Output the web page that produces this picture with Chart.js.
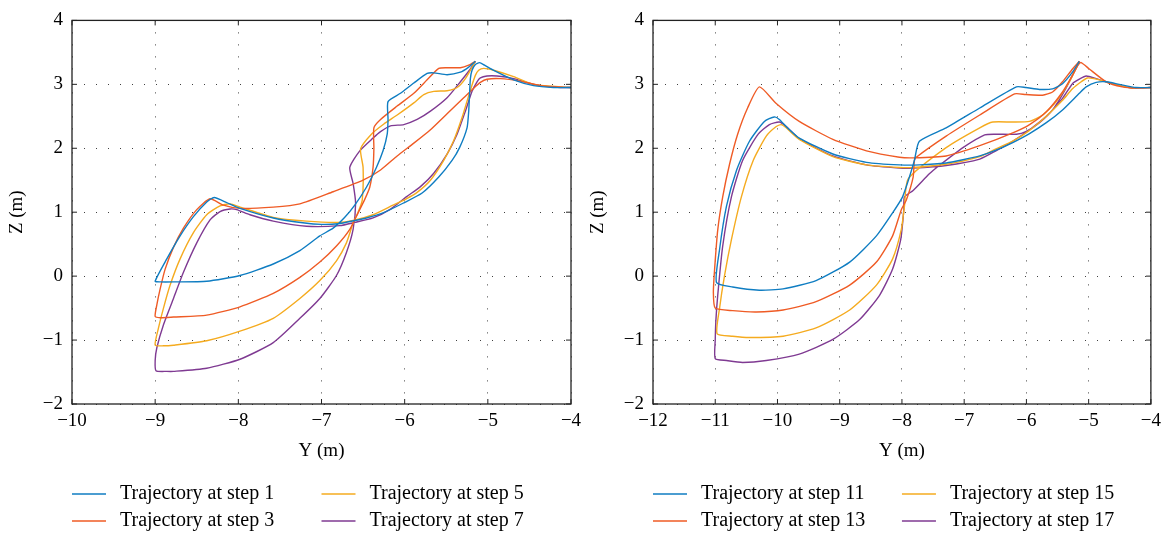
<!DOCTYPE html>
<html>
<head>
<meta charset="utf-8">
<title>Trajectories</title>
<script src="https://cdn.jsdelivr.net/npm/chart.js@4.4.1/dist/chart.umd.min.js"></script>
<style>
  html, body { margin: 0; padding: 0; background: #fff; }
  #wrap { position: relative; width: 1167px; height: 537px; }
  #wrap canvas { position: absolute; left: 0; top: 0; }
</style>
</head>
<body>
<div id="wrap">
  <canvas id="leftChart" width="1167" height="537"></canvas>
  <canvas id="rightChart" width="1167" height="537"></canvas>
</div>
<script>
// [Y, Z] samples of each trajectory, in metres
const step1 = [
  [-4.00, 2.95], [-4.21, 2.95], [-4.45, 2.98], [-4.69, 3.07], [-4.93, 3.22], [-5.04, 3.30], [-5.10, 3.34],
  [-5.15, 3.31], [-5.19, 3.22], [-5.21, 3.09], [-5.22, 2.84], [-5.23, 2.58], [-5.25, 2.32], [-5.34, 2.01],
  [-5.43, 1.81], [-5.59, 1.55], [-5.79, 1.30], [-6.02, 1.14], [-6.26, 0.99], [-6.46, 0.91], [-6.60, 0.87],
  [-6.80, 0.82], [-7.00, 0.81], [-7.20, 0.83], [-7.58, 0.91], [-7.98, 1.06], [-8.14, 1.15], [-8.29, 1.23],
  [-8.38, 1.16], [-8.54, 0.93], [-8.70, 0.63], [-8.86, 0.27], [-9.00, -0.08], [-8.94, -0.09], [-8.78, -0.09],
  [-8.38, -0.08], [-7.98, 0.01], [-7.58, 0.19], [-7.26, 0.40], [-7.02, 0.63], [-6.86, 0.75], [-6.72, 0.92],
  [-6.60, 1.11], [-6.46, 1.39], [-6.34, 1.70], [-6.26, 1.96], [-6.21, 2.22], [-6.20, 2.45], [-6.20, 2.73],
  [-6.05, 2.86], [-5.89, 3.02], [-5.73, 3.17], [-5.65, 3.18], [-5.49, 3.15], [-5.33, 3.19], [-5.23, 3.27],
  [-5.15, 3.36]
];
const step3 = [
  [-4.00, 2.95], [-4.37, 2.98], [-4.61, 3.05], [-4.85, 3.09], [-5.01, 3.08], [-5.09, 3.03], [-5.17, 2.94],
  [-5.29, 2.79], [-5.49, 2.54], [-5.69, 2.29], [-5.89, 2.08], [-6.09, 1.88], [-6.29, 1.66], [-6.50, 1.50],
  [-6.86, 1.32], [-7.26, 1.13], [-7.58, 1.08], [-7.98, 1.06], [-8.18, 1.11], [-8.34, 1.21], [-8.50, 1.04],
  [-8.66, 0.75], [-8.78, 0.45], [-8.88, 0.11], [-8.94, -0.20], [-8.98, -0.45], [-9.00, -0.63], [-8.94, -0.65],
  [-8.78, -0.64], [-8.38, -0.61], [-7.98, -0.48], [-7.58, -0.27], [-7.26, -0.02], [-7.02, 0.22], [-6.82, 0.47],
  [-6.66, 0.73], [-6.56, 0.99], [-6.48, 1.20], [-6.42, 1.39], [-6.38, 1.70], [-6.37, 2.00], [-6.37, 2.32],
  [-6.29, 2.45], [-6.09, 2.66], [-5.89, 2.86], [-5.73, 3.07], [-5.59, 3.25], [-5.49, 3.26], [-5.33, 3.26],
  [-5.23, 3.30], [-5.15, 3.36]
];
const step5 = [
  [-4.00, 2.95], [-4.13, 2.96], [-4.45, 3.00], [-4.69, 3.12], [-4.93, 3.22], [-5.05, 3.25], [-5.11, 3.22],
  [-5.15, 3.14], [-5.19, 2.99], [-5.24, 2.78], [-5.31, 2.48], [-5.41, 2.12], [-5.53, 1.81], [-5.69, 1.50],
  [-5.85, 1.31], [-5.98, 1.21], [-6.14, 1.11], [-6.38, 0.96], [-6.62, 0.87], [-6.80, 0.84], [-7.18, 0.86],
  [-7.58, 0.92], [-7.98, 1.08], [-8.10, 1.13], [-8.22, 1.10], [-8.38, 0.96], [-8.54, 0.68], [-8.70, 0.27],
  [-8.82, -0.14], [-8.90, -0.50], [-8.96, -0.81], [-9.00, -1.08], [-8.90, -1.09], [-8.78, -1.08], [-8.38, -1.01],
  [-7.98, -0.86], [-7.58, -0.66], [-7.26, -0.35], [-7.02, -0.07], [-6.82, 0.24], [-6.70, 0.52], [-6.62, 0.83],
  [-6.56, 1.00], [-6.51, 1.19], [-6.50, 1.70], [-6.53, 1.99], [-6.40, 2.22], [-6.25, 2.38], [-6.09, 2.52],
  [-5.89, 2.71], [-5.77, 2.84], [-5.65, 2.89], [-5.49, 2.90], [-5.37, 2.95], [-5.27, 3.09], [-5.15, 3.36]
];
const step7 = [
  [-4.00, 2.95], [-4.13, 2.95], [-4.45, 3.00], [-4.69, 3.09], [-4.89, 3.13], [-5.01, 3.13], [-5.09, 3.10],
  [-5.13, 3.04], [-5.19, 2.89], [-5.27, 2.58], [-5.37, 2.22], [-5.49, 1.91], [-5.65, 1.61], [-5.81, 1.40],
  [-5.98, 1.24], [-6.18, 1.04], [-6.38, 0.91], [-6.60, 0.84], [-6.78, 0.79], [-7.18, 0.78], [-7.58, 0.86],
  [-7.86, 0.96], [-8.02, 1.04], [-8.10, 1.05], [-8.22, 1.01], [-8.34, 0.88], [-8.50, 0.52], [-8.66, 0.06],
  [-8.78, -0.35], [-8.90, -0.76], [-8.98, -1.12], [-9.00, -1.32], [-8.99, -1.48], [-8.86, -1.49], [-8.78, -1.49],
  [-8.38, -1.44], [-7.98, -1.30], [-7.58, -1.04], [-7.26, -0.66], [-7.02, -0.35], [-6.82, 0.01], [-6.70, 0.37],
  [-6.62, 0.73], [-6.59, 1.14], [-6.62, 1.45], [-6.66, 1.70], [-6.54, 1.96], [-6.38, 2.16], [-6.29, 2.26],
  [-6.17, 2.35], [-6.01, 2.37], [-5.85, 2.45], [-5.69, 2.58], [-5.49, 2.79], [-5.33, 3.04], [-5.21, 3.24],
  [-5.15, 3.36]
];
const step11 = [
  [-4.00, 2.95], [-4.24, 2.95], [-4.51, 3.00], [-4.72, 3.04], [-4.88, 3.03], [-5.04, 2.96], [-5.15, 2.86],
  [-5.42, 2.60], [-5.68, 2.40], [-5.95, 2.23], [-6.22, 2.09], [-6.49, 1.97], [-6.75, 1.88], [-7.02, 1.82],
  [-7.29, 1.77], [-7.72, 1.74], [-8.04, 1.74], [-8.57, 1.78], [-9.11, 1.91], [-9.65, 2.16], [-9.85, 2.33],
  [-9.97, 2.45], [-10.05, 2.49], [-10.21, 2.42], [-10.45, 2.11], [-10.66, 1.65], [-10.82, 1.09], [-10.93, 0.42],
  [-10.98, -0.10], [-10.72, -0.17], [-10.29, -0.22], [-9.91, -0.20], [-9.38, -0.07], [-8.84, 0.22], [-8.41, 0.63],
  [-8.15, 0.99], [-7.99, 1.24], [-7.88, 1.55], [-7.80, 1.81], [-7.72, 2.11], [-7.29, 2.32], [-6.75, 2.63],
  [-6.16, 2.96], [-6.01, 2.95], [-5.79, 2.92], [-5.58, 2.93], [-5.42, 3.01], [-5.26, 3.19], [-5.15, 3.36]
];
const step13 = [
  [-4.00, 2.95], [-4.24, 2.94], [-4.46, 2.96], [-4.72, 3.04], [-4.99, 3.24], [-5.12, 3.34], [-5.17, 3.30],
  [-5.26, 3.14], [-5.42, 2.88], [-5.68, 2.57], [-5.95, 2.37], [-6.22, 2.24], [-6.75, 2.04], [-7.29, 1.88],
  [-7.82, 1.85], [-8.04, 1.86], [-8.57, 1.96], [-9.11, 2.14], [-9.65, 2.42], [-10.02, 2.70], [-10.29, 2.96],
  [-10.48, 2.63], [-10.64, 2.22], [-10.77, 1.75], [-10.88, 1.24], [-10.96, 0.72], [-11.01, 0.11], [-11.03, -0.25],
  [-11.00, -0.50], [-10.72, -0.54], [-10.34, -0.56], [-9.91, -0.53], [-9.38, -0.40], [-8.84, -0.14], [-8.41, 0.22],
  [-8.15, 0.63], [-8.01, 1.04], [-7.93, 1.19], [-7.82, 1.55], [-7.80, 1.81], [-7.77, 1.86], [-7.29, 2.19],
  [-6.75, 2.52], [-6.19, 2.85], [-6.01, 2.84], [-5.74, 2.83], [-5.58, 2.88], [-5.42, 3.04], [-5.26, 3.24],
  [-5.15, 3.36]
];
const step15 = [
  [-4.00, 2.95], [-4.35, 2.95], [-4.62, 3.01], [-4.83, 3.07], [-5.02, 3.10], [-5.12, 3.04], [-5.26, 2.93],
  [-5.42, 2.75], [-5.68, 2.50], [-5.95, 2.28], [-6.22, 2.11], [-6.49, 1.99], [-6.75, 1.87], [-7.29, 1.75],
  [-7.82, 1.70], [-8.04, 1.70], [-8.57, 1.74], [-9.11, 1.87], [-9.65, 2.14], [-9.86, 2.32], [-9.94, 2.37],
  [-10.02, 2.34], [-10.18, 2.19], [-10.39, 1.81], [-10.58, 1.24], [-10.74, 0.57], [-10.85, 0.01], [-10.93, -0.50],
  [-10.97, -0.90], [-10.72, -0.94], [-10.45, -0.96], [-9.91, -0.94], [-9.38, -0.81], [-8.84, -0.53], [-8.41, -0.14],
  [-8.15, 0.27], [-8.01, 0.73], [-7.96, 1.09], [-7.90, 1.52], [-7.29, 2.01], [-6.75, 2.32], [-6.54, 2.41],
  [-6.22, 2.41], [-5.95, 2.42], [-5.74, 2.52], [-5.52, 2.73], [-5.31, 3.04], [-5.15, 3.36]
];
const step17 = [
  [-4.00, 2.95], [-4.35, 2.95], [-4.62, 3.01], [-4.88, 3.09], [-5.04, 3.13], [-5.15, 3.08], [-5.26, 3.01],
  [-5.42, 2.78], [-5.68, 2.50], [-5.95, 2.29], [-6.22, 2.11], [-6.49, 1.96], [-6.75, 1.83], [-7.29, 1.73],
  [-7.82, 1.69], [-8.04, 1.69], [-8.57, 1.74], [-9.11, 1.88], [-9.65, 2.15], [-9.86, 2.34], [-9.97, 2.41],
  [-10.13, 2.37], [-10.31, 2.22], [-10.56, 1.81], [-10.74, 1.24], [-10.88, 0.47], [-10.96, -0.30], [-10.99, -0.70],
  [-11.00, -1.00], [-11.00, -1.29], [-10.82, -1.32], [-10.56, -1.35], [-10.18, -1.32], [-9.65, -1.22], [-9.11, -0.99],
  [-8.68, -0.68], [-8.36, -0.30], [-8.15, 0.11], [-8.02, 0.57], [-7.97, 1.04], [-7.96, 1.24], [-7.82, 1.34],
  [-7.56, 1.60], [-7.40, 1.73], [-7.02, 2.01], [-6.67, 2.21], [-6.49, 2.22], [-6.16, 2.22], [-6.01, 2.26],
  [-5.79, 2.40], [-5.58, 2.60], [-5.37, 2.93], [-5.15, 3.36]
];

const leftLabels = ['Trajectory at step 1', 'Trajectory at step 3', 'Trajectory at step 5', 'Trajectory at step 7'];
const rightLabels = ['Trajectory at step 11', 'Trajectory at step 13', 'Trajectory at step 15', 'Trajectory at step 17'];
const leftYRange = [-10, -4];
const rightYRange = [-12, -4];
const zRange = [-2, 4];

const colours = ['#0f7dc2', '#ef5b25', '#f5ab1f', '#7f3a92'];
const FONT = "'Liberation Serif', 'Times New Roman', serif";

Chart.defaults.font.family = FONT;
Chart.defaults.font.size = 19;
Chart.defaults.color = '#000';

// MATLAB-style minus sign on negative ticks
function tickText(v) {
  return v < 0 ? '\u2212' + Math.abs(v) : String(v);
}

// full box around the plot area with short inward ticks on every side
const frame = {
  id: 'frame',
  afterDatasetsDraw(chart) {
    const { ctx, chartArea: a, scales: { x, y } } = chart;
    ctx.save();
    ctx.strokeStyle = '#222';
    ctx.lineWidth = 1.3;
    ctx.strokeRect(a.left, a.top, a.right - a.left, a.bottom - a.top);
    ctx.lineWidth = 1;
    ctx.beginPath();
    x.ticks.forEach(t => {
      const px = x.getPixelForValue(t.value);
      ctx.moveTo(px, a.bottom); ctx.lineTo(px, a.bottom - 5);
      ctx.moveTo(px, a.top); ctx.lineTo(px, a.top + 5);
    });
    y.ticks.forEach(t => {
      const py = y.getPixelForValue(t.value);
      ctx.moveTo(a.left, py); ctx.lineTo(a.left + 5, py);
      ctx.moveTo(a.right, py); ctx.lineTo(a.right - 5, py);
    });
    ctx.stroke();
    ctx.restore();
  }
};

// two-column legend under the axis title, filled column by column
const legendGrid = {
  id: 'legendGrid',
  afterDraw(chart) {
    const { ctx, chartArea: a } = chart;
    const half = (a.right - a.left) / 2;
    ctx.save();
    ctx.font = '20px ' + FONT;
    ctx.textBaseline = 'middle';
    ctx.fillStyle = '#000';
    chart.data.datasets.forEach((ds, i) => {
      const x = a.left + Math.floor(i / 2) * half;
      const y = a.bottom + 90 + (i % 2) * 27;
      ctx.strokeStyle = ds.borderColor;
      ctx.lineWidth = 1.5;
      ctx.beginPath();
      ctx.moveTo(x, y);
      ctx.lineTo(x + 34, y);
      ctx.stroke();
      ctx.fillText(ds.label, x + 48, y);
    });
    ctx.restore();
  }
};

function makeChart(id, series, labels, yRange, padLeft, padRight) {
  const datasets = series.map((pts, i) => ({
    label: labels[i],
    data: pts.map(p => ({ x: p[0], y: p[1] })),
    showLine: true,
    borderColor: colours[i],
    backgroundColor: colours[i],
    borderWidth: 1.4,
    pointRadius: 0,
    tension: 0.2,
    fill: false
  }));

  return new Chart(document.getElementById(id), {
    type: 'scatter',
    data: { datasets },
    plugins: [frame, legendGrid],
    options: {
      responsive: false,
      animation: false,
      layout: { padding: { left: padLeft, right: padRight, top: 14, bottom: 75 } },
      plugins: { legend: { display: false }, tooltip: { enabled: false } },
      scales: {
        x: {
          type: 'linear',
          min: yRange[0],
          max: yRange[1],
          afterFit: s => { s.height = 58; },
          ticks: { stepSize: 1, padding: 6, maxRotation: 0, autoSkip: false, callback: tickText },
          grid: { color: 'rgba(0,0,0,0.75)', lineWidth: 1, drawTicks: false },
          border: { display: false, dash: [1, 11] },
          title: { display: true, text: 'Y (m)', padding: { top: 0, bottom: 0 } }
        },
        y: {
          type: 'linear',
          min: zRange[0],
          max: zRange[1],
          afterFit: s => { s.width = 68; },
          ticks: { stepSize: 1, padding: 9, autoSkip: false, callback: tickText },
          grid: { color: 'rgba(0,0,0,0.75)', lineWidth: 1, drawTicks: false },
          border: { display: false, dash: [1, 11] },
          title: { display: true, text: 'Z (m)', padding: { top: 2, bottom: 0 } }
        }
      }
    }
  });
}

makeChart('leftChart', [step1, step3, step5, step7], leftLabels, leftYRange, 4, 596);
makeChart('rightChart', [step11, step13, step15, step17], rightLabels, rightYRange, 585, 15);
</script>
</body>
</html>
